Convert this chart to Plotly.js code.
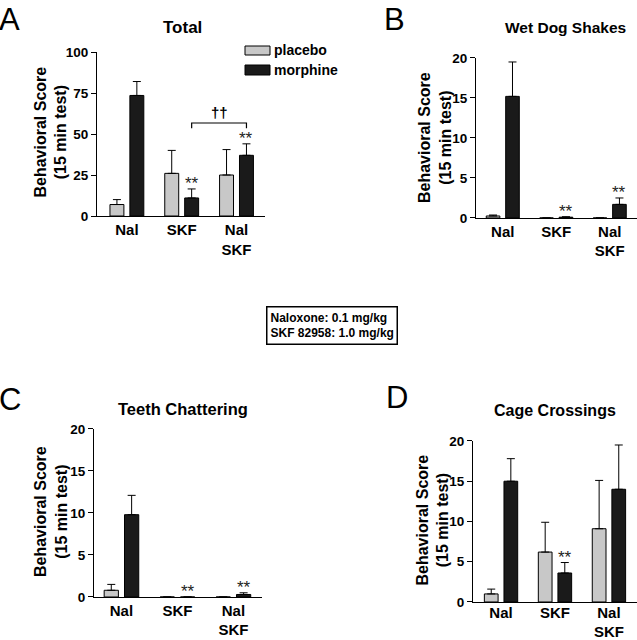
<!DOCTYPE html>
<html>
<head>
<meta charset="utf-8">
<script src="https://cdn.plot.ly/plotly-3.0.1.min.js"></script>
<style>html,body{margin:0;padding:0;background:#fff;}#chart{width:637px;height:640px;}</style>
</head>
<body>
<div id="chart"></div>
<script>
// ---- data ----
const categories = ['Nal', 'SKF', 'Nal SKF'];
const tickLabels = ['Nal', 'SKF', 'Nal<br>SKF'];
const xPos = [0, 1, 2];
const yTitle = 'Behavioral Score<br>(15 min test)';

const totalPlacebo = [7, 26, 25];
const totalPlaceboErr = [3, 14, 15.5];
const totalMorphine = [73.5, 11, 37];
const totalMorphineErr = [8.5, 5.5, 7];
const totalStars = [false, true, true];

const wdsPlacebo = [0.25, 0, 0];
const wdsPlaceboErr = [0.12, 0, 0];
const wdsMorphine = [15.2, 0.1, 1.7];
const wdsMorphineErr = [4.3, 0.05, 0.8];
const wdsStars = [false, true, true];

const tcPlacebo = [0.8, 0, 0];
const tcPlaceboErr = [0.7, 0, 0];
const tcMorphine = [9.8, 0, 0.3];
const tcMorphineErr = [2.3, 0, 0.2];
const tcStars = [false, true, true];

const ccPlacebo = [1.0, 6.2, 9.1];
const ccPlaceboErr = [0.6, 3.7, 6.0];
const ccMorphine = [15.0, 3.6, 14.0];
const ccMorphineErr = [2.8, 1.3, 5.5];
const ccStars = [false, true, false];

// ---- styling ----
const FONT = 'Liberation Sans, Arial, sans-serif';
const placeboColor = '#c8c8c8';
const morphineColor = '#1a1a1a';
const morphOffset = 0.182;

const panels = [
  {key: '', title: 'Total', tsize: 17, letter: 'A', p: totalPlacebo, pe: totalPlaceboErr, m: totalMorphine, me: totalMorphineErr, stars: totalStars,
   xd: [0.1523, 0.416], xr: [-0.545, 2.52], yd: [0.6625, 0.91875], yr: [0, 100], dt: 25, lblOff: 0,
   titleX: 182/637, titleY: 1 - 28/640, letterX: 0, letterY: 1, ytX: 50.5, ytY: 132},
  {key: '2', title: 'Wet Dog Shakes', tsize: 15.5, letter: 'B', p: wdsPlacebo, pe: wdsPlaceboErr, m: wdsMorphine, me: wdsMorphineErr, stars: wdsStars,
   xd: [0.7473, 1.0], xr: [-0.5, 2.51], yd: [0.6594, 0.9094], yr: [0, 20], dt: 5, lblOff: 0,
   titleX: 565/637, titleY: 1 - 27/640, letterX: 385/637, letterY: 1, ytX: 434.5, ytY: 137.5},
  {key: '3', title: 'Teeth Chattering', tsize: 16.5, letter: 'C', p: tcPlacebo, pe: tcPlaceboErr, m: tcMorphine, me: tcMorphineErr, stars: tcStars,
   xd: [0.1476, 0.4113], xr: [-0.49, 2.51], yd: [0.0672, 0.3297], yr: [0, 20], dt: 5, lblOff: 0,
   titleX: 183/637, titleY: 1 - 409/640, letterX: 0, letterY: 1 - 380/640, ytX: 50.5, ytY: 511.5},
  {key: '4', title: 'Cage Crossings', tsize: 16, letter: 'D', p: ccPlacebo, pe: ccPlaceboErr, m: ccMorphine, me: ccMorphineErr, stars: ccStars,
   xd: [0.7425, 1.0], xr: [-0.52, 2.52], yd: [0.0594, 0.311], yr: [0, 20], dt: 5, lblOff: -3,
   titleX: 555/637, titleY: 1 - 410/640, letterX: 387/637, letterY: 1 - 378/640, ytX: 432.5, ytY: 520}
];

const traces = [];
const layout = {
  width: 637, height: 640,
  margin: {l: 0, r: 0, t: 0, b: 0},
  paper_bgcolor: '#fff', plot_bgcolor: '#fff',
  showlegend: false,
  barmode: 'group', bargap: 0.273, bargroupgap: 0.3,
  font: {family: FONT, color: '#000'},
  annotations: [], shapes: []
};

panels.forEach(pn => {
  const xa = 'x' + pn.key, ya = 'y' + pn.key;
  const errStyle = (arr) => ({type: 'data', symmetric: false, array: arr, arrayminus: arr.map(() => 0),
    color: '#000', thickness: 1, width: 4, visible: true});
  traces.push({type: 'bar', name: 'placebo', x: xPos, y: pn.p, xaxis: xa, yaxis: ya,
    marker: {color: placeboColor, line: {color: '#000', width: 1}}, error_y: errStyle(pn.pe), hoverinfo: 'skip'});
  traces.push({type: 'bar', name: 'morphine', x: xPos, y: pn.m, xaxis: xa, yaxis: ya,
    marker: {color: morphineColor, line: {color: '#000', width: 1}}, error_y: errStyle(pn.me), hoverinfo: 'skip'});

  layout['xaxis' + pn.key] = {
    domain: pn.xd, range: pn.xr, anchor: ya, showline: true, linecolor: '#000', linewidth: 1,
    ticks: '', tickvals: xPos, ticktext: tickLabels, showgrid: false, zeroline: false, fixedrange: true,
    ticklabelstandoff: pn.lblOff,
    tickfont: {family: FONT, size: 15, weight: 'bold', color: '#000'}, automargin: false
  };
  layout['yaxis' + pn.key] = {
    domain: pn.yd, range: pn.yr, anchor: xa, showline: true, linecolor: '#000', linewidth: 1,
    ticks: 'outside', ticklen: 5, tickwidth: 1, tickcolor: '#000', dtick: pn.dt, tick0: 0,
    showgrid: false, zeroline: false, fixedrange: true, automargin: false,
    tickfont: {family: FONT, size: 13.5, weight: 'bold', color: '#000'}
  };

  // y-axis title (rotated)
  layout.annotations.push({xref: 'paper', yref: 'paper', x: pn.ytX/637, y: 1 - pn.ytY/640, text: yTitle,
    textangle: -90, showarrow: false, xanchor: 'center', yanchor: 'middle', align: 'center',
    font: {family: FONT, size: 16, weight: 'bold', color: '#000'}});

  layout.annotations.push({xref: 'paper', yref: 'paper', x: pn.titleX, y: pn.titleY, text: pn.title,
    showarrow: false, xanchor: 'center', yanchor: 'middle', font: {family: FONT, size: pn.tsize, weight: 'bold', color: '#000'}});
  layout.annotations.push({xref: 'paper', yref: 'paper', x: pn.letterX, y: pn.letterY, text: pn.letter,
    showarrow: false, xanchor: 'left', yanchor: 'top', xshift: -3, yshift: 0, font: {family: FONT, size: 31, color: '#000'}});

  pn.stars.forEach((s, i) => {
    if (!s) return;
    layout.annotations.push({xref: xa, yref: ya, x: xPos[i] + morphOffset, y: pn.m[i] + pn.me[i], text: '**',
      showarrow: false, xanchor: 'center', yanchor: 'middle', yshift: 5,
      font: {family: FONT, size: 17, color: '#222'}});
  });
});

// bracket + dagger in panel A
const bL = xPos[1] + morphOffset, bR = xPos[2] + morphOffset, bTop = 56.7, bBot = 53.5;
layout.shapes.push({type: 'path', xref: 'x', yref: 'y',
  path: `M${bL},${bBot} L${bL},${bTop} L${bR},${bTop} L${bR},${bBot}`, line: {color: '#000', width: 1.2}});
layout.annotations.push({xref: 'x', yref: 'y', x: (bL + bR) / 2, y: bTop, text: '††', showarrow: false,
  xanchor: 'center', yanchor: 'bottom', font: {family: FONT, size: 15, weight: 'bold', color: '#000'}});

// legend (panel A)
const legendItems = [{name: 'placebo', color: placeboColor, y0: 46, y1: 55}, {name: 'morphine', color: morphineColor, y0: 65, y1: 75}];
legendItems.forEach(it => {
  layout.shapes.push({type: 'rect', xref: 'paper', yref: 'paper', x0: 245/637, x1: 270/637,
    y0: 1 - it.y1/640, y1: 1 - it.y0/640, fillcolor: it.color, line: {color: '#000', width: 1}});
  layout.annotations.push({xref: 'paper', yref: 'paper', x: 272/637, y: 1 - ((it.y0 + it.y1)/2)/640, text: it.name,
    showarrow: false, xanchor: 'left', yanchor: 'middle', font: {family: FONT, size: 14, weight: 'bold', color: '#000'}});
});

// dose box
layout.annotations.push({xref: 'paper', yref: 'paper', x: 331.5/637, y: 1 - 325.5/640,
  text: 'Naloxone: 0.1 mg/kg<br>SKF 82958: 1.0 mg/kg', showarrow: false, align: 'left',
  xanchor: 'center', yanchor: 'middle', bordercolor: '#000', borderwidth: 1.5, borderpad: 3, bgcolor: '#fff',
  font: {family: FONT, size: 12, weight: 'bold', color: '#000'}});

Plotly.newPlot('chart', traces, layout, {staticPlot: true, displayModeBar: false});
</script>
</body>
</html>
